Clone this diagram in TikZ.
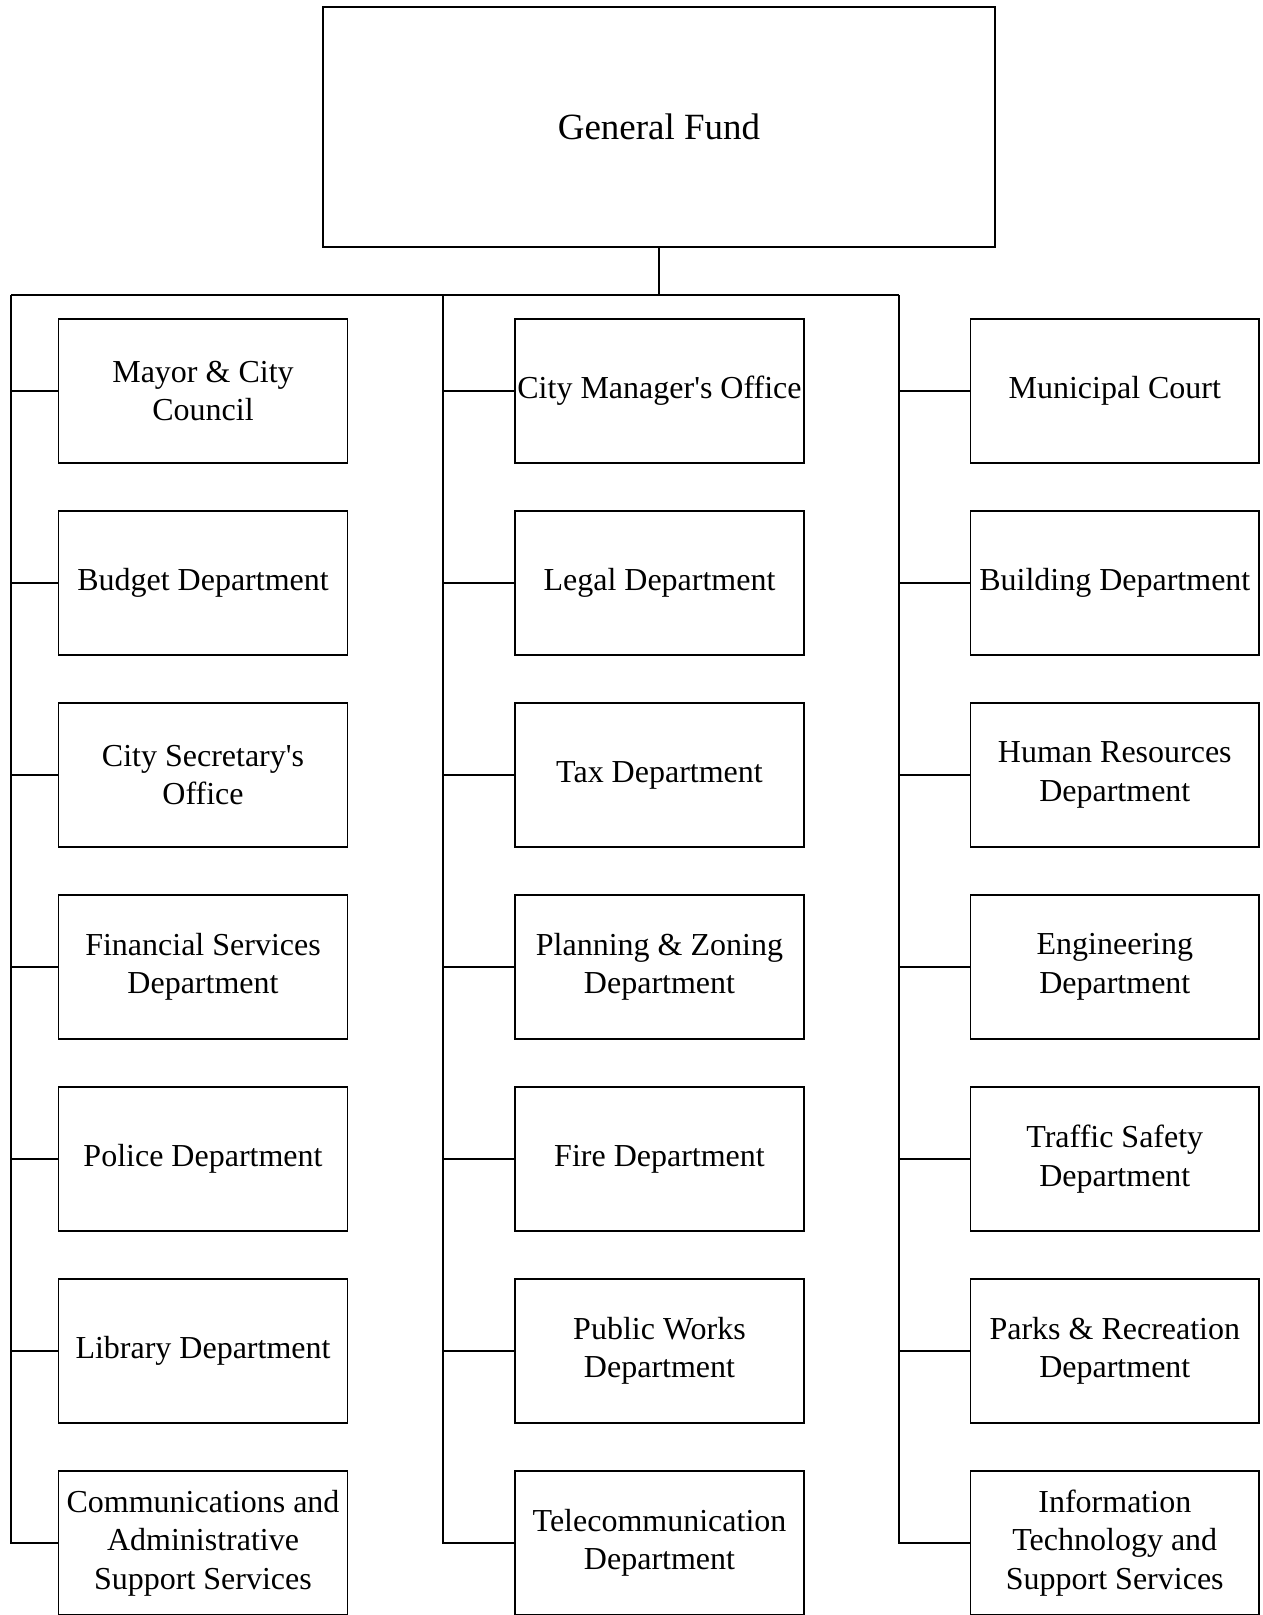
\documentclass[tikz,border=0pt]{standalone}
\usepackage{fontspec}
\setmainfont{Liberation Serif}[Ligatures=TeXOff]
\begin{document}
\begin{tikzpicture}[x=1pt,y=-1pt,
  line width=1.5pt,
  unit/.style={draw, minimum width=288.6pt, minimum height=143.7pt,
    inner sep=0pt, align=center, font=\fontsize{32}{38.5}\selectfont},
  fund/.style={draw, minimum width=672pt, minimum height=240pt,
    inner sep=0pt, align=center, font=\fontsize{37}{44}\selectfont},
  link/.style={line width=1.5pt}]
\useasboundingbox (0,0) rectangle (1262,1615);

% top node
\node[fund] (gf) at (659,127) {General Fund};

% bus lines
\coordinate (hub) at (659,295);
\coordinate (busL) at (11,295);
\coordinate (busR) at (899,295);

% left column
\node[unit] (l1) at (203,391) {Mayor \& City\\Council};
\node[unit] (l2) at (203,583) {Budget Department};
\node[unit] (l3) at (203,775) {City Secretary's\\Office};
\node[unit] (l4) at (203,967) {Financial Services\\Department};
\node[unit] (l5) at (203,1159) {Police Department};
\node[unit] (l6) at (203,1351) {Library Department};
\node[unit] (l7) at (203,1543) {Communications and\\Administrative\\Support Services};

% middle column
\node[unit] (m1) at (659.5,391) {City Manager's Office};
\node[unit] (m2) at (659.5,583) {Legal Department};
\node[unit] (m3) at (659.5,775) {Tax Department};
\node[unit] (m4) at (659.5,967) {Planning \& Zoning\\Department};
\node[unit] (m5) at (659.5,1159) {Fire Department};
\node[unit] (m6) at (659.5,1351) {Public Works\\Department};
\node[unit] (m7) at (659.5,1543) {Telecommunication\\Department};

% right column
\node[unit] (r1) at (1114.8,391) {Municipal Court};
\node[unit] (r2) at (1114.8,583) {Building Department};
\node[unit] (r3) at (1114.8,775) {Human Resources\\Department};
\node[unit] (r4) at (1114.8,967) {Engineering\\Department};
\node[unit] (r5) at (1114.8,1159) {Traffic Safety\\Department};
\node[unit] (r6) at (1114.8,1351) {Parks \& Recreation\\Department};
\node[unit] (r7) at (1114.8,1543) {Information\\Technology and\\Support Services};

% trunk and horizontal bus
\draw[link] (gf.south) -- (hub);
\draw[link] (busL) -- (busR);

% column spines with branches
\foreach \c/\x in {l/11, m/443, r/899} {
  \draw[link] (\x,295) |- (\c7.west);
  \foreach \k in {1,...,6}
    \draw[link] (\c\k.west) -- (\x,0 |- \c\k.west);
}
\end{tikzpicture}
\end{document}
